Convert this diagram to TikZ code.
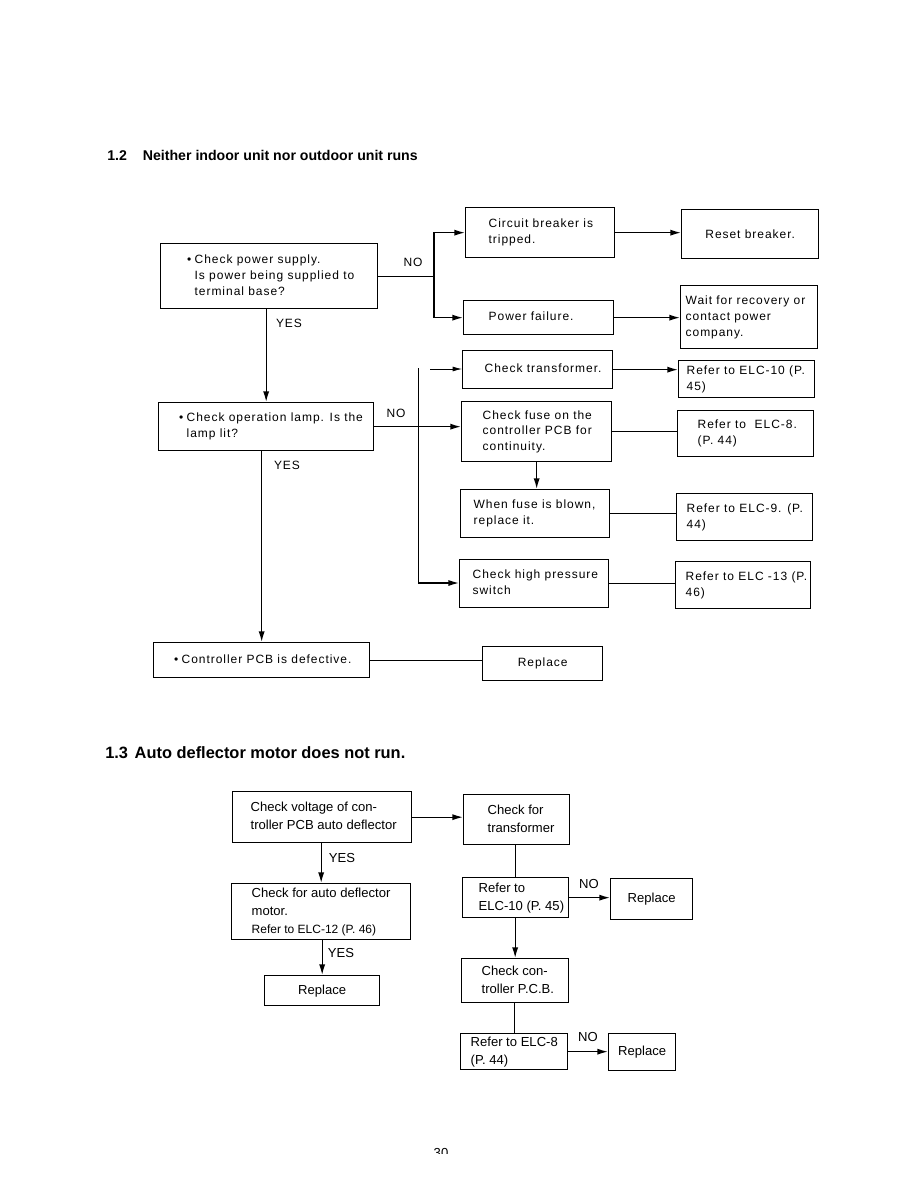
\documentclass[tikz,border=0pt]{standalone}
\usepackage{fontspec}
\setmainfont{Liberation Sans}
\newfontfamily\spaced[LetterSpace=8]{Liberation Sans}
\usetikzlibrary{arrows.meta}
\newcommand\topfont{\spaced\fontsize{9}{11.8}\selectfont}
\newcommand\botfont{\fontsize{9.8}{13.5}\selectfont}
\newcommand\bul{\llap{•\hspace{2.5pt}}}
\tikzset{
  box/.style={draw, line width=1pt, rectangle, inner xsep=0pt, inner ysep=0pt, font=\topfont},
  bot/.style={font=\botfont},
  conn/.style={draw, line width=1pt},
  arr/.style={draw, line width=1pt, -{Latex[length=8pt,width=4.6pt]}},
  arrthin/.style={draw, line width=0.5pt, -{Latex[length=7pt,width=3.6pt]}},
  lbl/.style={font=\topfont, inner sep=0pt},
  blbl/.style={font=\botfont, inner sep=0pt},
}
% \bx[opts]{name}{x1}{y1}{x2}{y2}{leftpad}{text}
\newcommand\bx[8][]{%
  \pgfmathsetlengthmacro\bxw{(#5-#3)*0.75}%
  \pgfmathsetlengthmacro\bxh{(#6-#4)*0.75}%
  \pgfmathsetlengthmacro\bxl{#7*0.75}%
  \node[box,#1,anchor=north west,minimum width=\bxw,minimum height=\bxh] (#2) at (#3,#4)
    {\makebox[\bxw][l]{\hspace*{\bxl}\begin{tabular}{@{}l@{}}#8\end{tabular}}};}
% \cbx[opts]{name}{x1}{y1}{x2}{y2}{text}
\newcommand\cbx[7][]{%
  \pgfmathsetlengthmacro\bxw{(#5-#3)*0.75}%
  \pgfmathsetlengthmacro\bxh{(#6-#4)*0.75}%
  \node[box,#1,anchor=north west,minimum width=\bxw,minimum height=\bxh] (#2) at (#3,#4) {#7};}
\begin{document}
\begin{tikzpicture}[x=0.75pt,y=-0.75pt]
\useasboundingbox (0,0) rectangle (918,1188);

% Titles
\node[anchor=base west, inner sep=0pt, font=\bfseries\fontsize{10.6}{13}\selectfont] (t12) at (107,160) {1.2\hspace{12pt}Neither indoor unit nor outdoor unit runs};
\node[anchor=base west, inner sep=0pt, font=\bfseries\fontsize{12.3}{14}\selectfont] (t13) at (105,758) {1.3\hspace{5pt}Auto deflector motor does not run.};

% Section 1.2 boxes
\bx{A}{160}{243}{377}{308}{34}{\bul Check power supply.\\Is power being supplied to\\terminal base?}
\bx{B}{465}{207}{614}{257}{23}{Circuit breaker is\\tripped.}
\cbx{D}{681}{209}{818}{258}{Reset breaker.}
\bx{C}{463}{300}{613}{334}{25}{Power failure.}
\bx{E}{680}{285}{817}{348}{5}{Wait for recovery or\\contact power\\company.}
\bx{G1}{462}{350}{612}{388}{22}{Check transformer.}
\bx{H1}{678}{360}{814}{397}{8}{Refer to ELC-10 (P.\\45)}
\bx{F}{158}{402}{373}{450}{28}{\bul Check operation lamp. Is the\\lamp lit?}
\bx{G2}{461}{401}{611}{461}{21}{Check fuse on the\\controller PCB for\\continuity.}
\bx{H2}{677}{410}{813}{456}{20}{Refer to\ \ ELC-8.\\(P. 44)}
\bx{G3}{460}{489}{609}{537}{13}{When fuse is blown,\\replace it.}
\bx{H3}{676}{493}{812}{540}{10}{Refer to ELC-9. (P.\\44)}
\bx{G4}{459}{559}{608}{607}{13}{Check high pressure\\switch}
\bx{H4}{675}{561}{810}{608}{10}{Refer to ELC -13 (P.\\46)}
\bx{K}{153}{642}{369}{677}{28}{\bul Controller PCB is defective.}
\cbx{L}{482}{646}{602}{680}{Replace}

% Section 1.2 connectors
\coordinate (j1) at (434,0);
\draw[conn] (A.east) -- (A.east -| j1);
\draw[arr] (A.east -| j1) |- (B.west);
\draw[arr] (A.east -| j1) |- (C.west);
\draw[arr] (B.east) -- (B.east -| D.west);
\draw[arr] (C.east) -- (C.east -| E.west);
\draw[arr] (F.north |- A.south) -- (F.north);
\draw[arr] (F.east) -- (F.east -| G2.west);
\coordinate (v1) at (418.4,368);
\coordinate (v2) at (418.4,583);
\draw[conn] (v1) -- (v2);
\draw[arr] (v2) -- (v2 -| G4.west);
\coordinate (t1) at (430,369);
\draw[arrthin] (t1) -- (t1 -| G1.west);
\draw[arr] (G1.east) -- (G1.east -| H1.west);
\draw[conn] (G2.east) -- (G2.east -| H2.west);
\draw[arr] (G2.south) -- (G2.south |- G3.north);
\draw[conn] (G3.east) -- (G3.east -| H3.west);
\draw[conn] (G4.east) -- (G4.east -| H4.west);
\draw[arr] (K.north |- F.south) -- (K.north);
\draw[conn] (K.east) -- (K.east -| L.west);

% Section 1.2 labels
\node[lbl] (no1) at (413,262) {NO};
\node[lbl] (yes1) at (289,323) {YES};
\node[lbl] (no2) at (396,413) {NO};
\node[lbl] (yes2) at (287,465) {YES};

% Section 1.3 boxes
\bx[bot]{M}{232}{791}{411}{842}{18}{Check voltage of con-\\troller PCB auto deflector}
\bx[bot]{N}{463}{794}{569}{844}{24}{Check for\\transformer}
\bx[bot]{P}{231}{883}{410}{939}{20}{Check for auto deflector\\motor.\\{\fontsize{9}{12}\selectfont Refer to ELC-12 (P. 46)}}
\bx[bot]{Q}{462}{877}{568}{917}{16}{Refer to\\ELC-10 (P. 45)}
\cbx[bot]{R}{610}{878}{692}{919}{Replace}
\bx[bot]{S}{461}{958}{568}{1002}{20}{Check con-\\troller P.C.B.}
\cbx[bot]{T}{264}{975}{379}{1005}{Replace}
\bx[bot]{U}{460}{1033}{567}{1068}{10}{Refer to ELC-8\\(P. 44)}
\cbx[bot]{V}{608}{1033}{675}{1070}{Replace}

% Section 1.3 connectors
\draw[arr] (M.east) -- (M.east -| N.west);
\draw[arr] (P.north |- M.south) -- (P.north);
\draw[conn] (Q.north |- N.south) -- (Q.north);
\draw[arr] (Q.east) -- (Q.east -| R.west);
\draw[arr] (S.north |- Q.south) -- (S.north);
\draw[arr] (T.north |- P.south) -- (T.north);
\draw[conn] (U.north |- S.south) -- (U.north);
\draw[arr] (U.east) -- (U.east -| V.west);

% Section 1.3 labels
\node[blbl] (yes3) at (342,858) {YES};
\node[blbl] (no3) at (589,884) {NO};
\node[blbl] (yes4) at (341,953) {YES};
\node[blbl] (no4) at (588,1037) {NO};

% page number (cut off at the bottom of the scan)
\begin{scope}
\clip (400,1140) rectangle (480,1153.5);
\node[font=\botfont, inner sep=0pt, anchor=north] (pg) at (441,1148) {30};
\end{scope}
\end{tikzpicture}
\end{document}
